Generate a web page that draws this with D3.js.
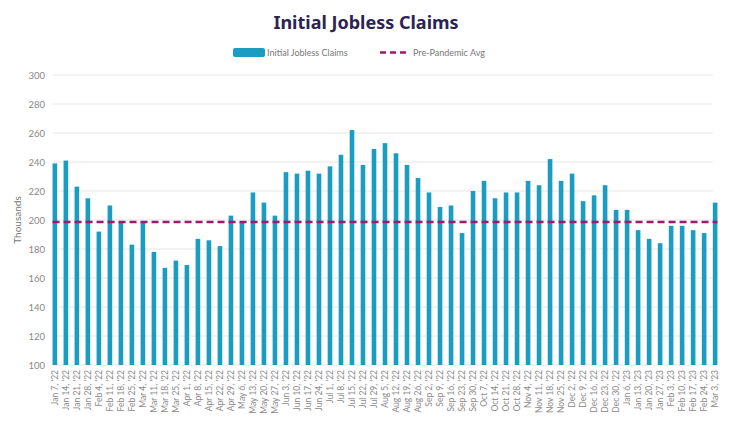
<!DOCTYPE html>
<html>
<head>
<meta charset="utf-8">
<script src="https://cdn.jsdelivr.net/npm/d3@7"></script>
<style>
  body { margin: 0; background: #fff; }
  text { font-family: 'Lato', 'Noto Sans', sans-serif; }
</style>
</head>
<body>
<div id="chart-area"></div>
<script>
const weeks = [
  "Jan 7, '22", "Jan 14, '22", "Jan 21, '22", "Jan 28, '22", "Feb 4, '22", "Feb 11, '22",
  "Feb 18, '22", "Feb 25, '22", "Mar 4, '22", "Mar 11, '22", "Mar 18, '22", "Mar 25, '22",
  "Apr 1, '22", "Apr 8, '22", "Apr 15, '22", "Apr 22, '22", "Apr 29, '22", "May 6, '22",
  "May 13, '22", "May 20, '22", "May 27, '22", "Jun 3, '22", "Jun 10, '22", "Jun 17, '22",
  "Jun 24, '22", "Jul 1, '22", "Jul 8, '22", "Jul 15, '22", "Jul 22, '22", "Jul 29, '22",
  "Aug 5, '22", "Aug 12, '22", "Aug 19, '22", "Aug 26, '22", "Sep 2, '22", "Sep 9, '22",
  "Sep 16, '22", "Sep 23, '22", "Sep 30, '22", "Oct 7, '22", "Oct 14, '22", "Oct 21, '22",
  "Oct 28, '22", "Nov 4, '22", "Nov 11, '22", "Nov 18, '22", "Nov 25, '22", "Dec 2, '22",
  "Dec 9, '22", "Dec 16, '22", "Dec 23, '22", "Dec 30, '22", "Jan 6, '23", "Jan 13, '23",
  "Jan 20, '23", "Jan 27, '23", "Feb 3, '23", "Feb 10, '23", "Feb 17, '23", "Feb 24, '23",
  "Mar 3, '23"
];
const claims = [
  239, 241, 223, 215, 192, 210, 199, 183, 199, 178, 167, 172,
  169, 187, 186, 182, 203, 199, 219, 212, 203, 233, 232, 234,
  232, 237, 245, 262, 238, 249, 253, 246, 238, 229, 219, 209,
  210, 191, 220, 227, 215, 219, 219, 227, 224, 242, 227, 232,
  213, 217, 224, 207, 207, 193, 187, 184, 196, 196, 193, 191,
  212
];
const prePandemicAvg = 198.6;
const yTicks = [100, 120, 140, 160, 180, 200, 220, 240, 260, 280, 300];

const W = 743, H = 440;
const margin = {left: 52, right: 25, top: 75, bottom: 75};

const svg = d3.select('#chart-area')
  .append('svg')
  .attr('width', W)
  .attr('height', H);

const x = d3.scaleBand()
  .domain(weeks)
  .range([margin.left, W - margin.right])
  .paddingInner(0.58)
  .paddingOuter(0.05);

const y = d3.scaleLinear()
  .domain([100, 300])
  .range([H - margin.bottom, margin.top]);

// Title
svg.append('text')
  .attr('x', 366)
  .attr('y', 29)
  .attr('text-anchor', 'middle')
  .style('font-family', "'Noto Sans', sans-serif")
  .attr('font-size', '18px')
  .attr('font-weight', 'bold')
  .attr('fill', '#2b2452')
  .text('Initial Jobless Claims');

// Legend
svg.append('rect')
  .attr('x', 233).attr('y', 48)
  .attr('width', 32).attr('height', 9)
  .attr('rx', 2)
  .attr('fill', '#1b9dc1');
svg.append('text')
  .attr('x', 267).attr('y', 56)
  .attr('font-size', '9px')
  .attr('fill', '#777')
  .text('Initial Jobless Claims');
svg.append('line')
  .attr('x1', 380).attr('x2', 408)
  .attr('y1', 52.5).attr('y2', 52.5)
  .attr('stroke', '#9c1b6c')
  .attr('stroke-width', 2.5)
  .attr('stroke-dasharray', '6,4');
svg.append('text')
  .attr('x', 413).attr('y', 56)
  .attr('font-size', '9px')
  .attr('fill', '#777')
  .text('Pre-Pandemic Avg');

// Gridlines
const gx1 = x(weeks[0]);
const gx2 = x(weeks[weeks.length - 1]);
svg.append('g')
  .selectAll('line')
  .data(yTicks)
  .join('line')
  .attr('x1', gx1).attr('x2', gx2)
  .attr('y1', d => y(d)).attr('y2', d => y(d))
  .attr('stroke', '#e6e6e6')
  .attr('stroke-width', 1);

// Y axis
const yAxis = svg.append('g')
  .attr('transform', `translate(${margin.left - 7}, 0)`)
  .call(d3.axisLeft(y).tickValues(yTicks).tickSize(0).tickPadding(0));
yAxis.select('.domain').remove();
yAxis.selectAll('text')
  .attr('font-size', '9.5px')
  .attr('fill', '#888');

svg.append('text')
  .attr('transform', `translate(21, ${y(200)}) rotate(-90)`)
  .attr('text-anchor', 'middle')
  .attr('font-size', '10px')
  .attr('fill', '#777')
  .text('Thousands');

// Bars
svg.append('g')
  .selectAll('rect')
  .data(claims)
  .join('rect')
  .attr('x', (d, i) => x(weeks[i]))
  .attr('y', d => y(d))
  .attr('width', x.bandwidth())
  .attr('height', d => y(100) - y(d))
  .attr('fill', '#1b9dc1');

// Pre-pandemic average
svg.append('line')
  .attr('x1', gx1).attr('x2', gx2 + x.bandwidth())
  .attr('y1', y(prePandemicAvg)).attr('y2', y(prePandemicAvg))
  .attr('stroke', '#9c1b6c')
  .attr('stroke-width', 2.5)
  .attr('stroke-dasharray', '7,4');

// X axis labels
const xAxis = svg.append('g')
  .attr('transform', `translate(0, ${y(100)})`)
  .call(d3.axisBottom(x).tickSize(0).tickPadding(0));
xAxis.select('.domain').remove();
xAxis.selectAll('text')
  .attr('font-size', '8.5px')
  .attr('fill', '#8a8a8a')
  .attr('text-anchor', 'end')
  .attr('dy', '0.32em')
  .attr('transform', 'translate(0, 5) rotate(-90)')
  .attr('y', 0)
  .attr('x', 0);
</script>
</body>
</html>
